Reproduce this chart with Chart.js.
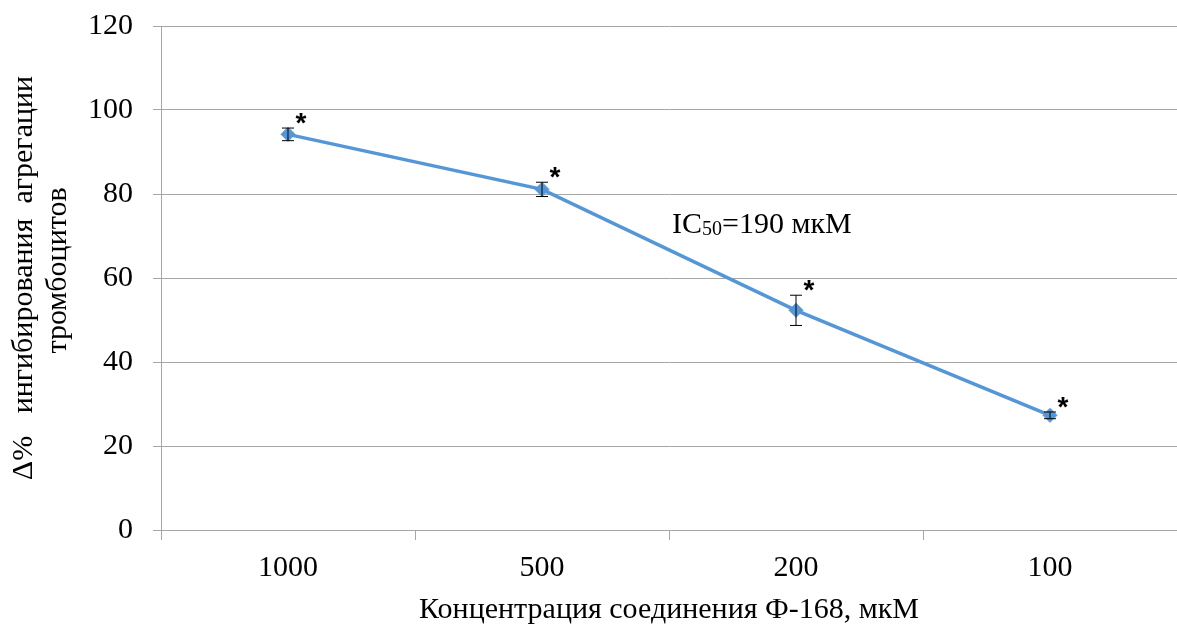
<!DOCTYPE html>
<html>
<head>
<meta charset="utf-8">
<script src="https://cdn.jsdelivr.net/npm/chart.js@4.4.1/dist/chart.umd.min.js"></script>
<style>
  html, body { margin: 0; padding: 0; background: #ffffff; }
  #wrap { width: 1177px; height: 628px; }
</style>
</head>
<body>
<div id="wrap"><canvas id="c" width="1177" height="628"></canvas></div>
<script>
// Concentrations of compound F-168 (µM) and inhibition of platelet aggregation
const categories = ['1000', '500', '200', '100'];
const inhibition = [94.2, 81.1, 52.3, 27.3];
const errors = [1.5, 1.7, 3.6, 0.8];
const significant = [true, true, true, true];
const yTicks = [0, 20, 40, 60, 80, 100, 120];

const FONT = "'Liberation Serif', 'Times New Roman', serif";
const GRID = '#a6a6a6';

// Error bars and significance marks drawn on top of the line
const errorBarPlugin = {
  id: 'errorBars',
  afterDatasetsDraw(chart) {
    const ctx = chart.ctx;
    const meta = chart.getDatasetMeta(0);
    const y = chart.scales.y;
    ctx.save();
    meta.data.forEach((pt, i) => {
      const yTop = y.getPixelForValue(inhibition[i] + errors[i]);
      const yBot = y.getPixelForValue(inhibition[i] - errors[i]);
      const x = pt.x;
      ctx.strokeStyle = '#000000';
      ctx.lineWidth = 1;
      ctx.beginPath();
      ctx.moveTo(x, yTop); ctx.lineTo(x, yBot);
      ctx.moveTo(x - 6, yTop); ctx.lineTo(x + 6, yTop);
      ctx.moveTo(x - 6, yBot); ctx.lineTo(x + 6, yBot);
      ctx.stroke();
      if (significant[i]) {
        ctx.fillStyle = '#000000';
        ctx.font = "bold 28px 'Liberation Sans', Arial, sans-serif";
        ctx.textAlign = 'center';
        ctx.textBaseline = 'middle';
        ctx.fillText('*', x + 13, yTop - 4);
      }
    });
    ctx.restore();
  }
};

// IC50 annotation placed in data coordinates
const icLabelPlugin = {
  id: 'icLabel',
  afterDraw(chart) {
    const ctx = chart.ctx;
    const xs = chart.scales.x, ys = chart.scales.y;
    const x0 = xs.getPixelForValue(1) + 130;
    const yb = ys.getPixelForValue(70.7);
    ctx.save();
    ctx.fillStyle = '#000000';
    ctx.textAlign = 'left';
    ctx.textBaseline = 'alphabetic';
    ctx.font = '30px ' + FONT;
    ctx.fillText('IC', x0, yb);
    let x = x0 + ctx.measureText('IC').width;
    ctx.font = '20px ' + FONT;
    ctx.fillText('50', x, yb + 2);
    x += ctx.measureText('50').width;
    ctx.font = '30px ' + FONT;
    ctx.fillText('=190 мкМ', x, yb);
    ctx.restore();
  }
};

new Chart(document.getElementById('c'), {
  type: 'line',
  data: {
    labels: categories,
    datasets: [{
      data: inhibition,
      borderColor: '#5596d7',
      backgroundColor: '#5596d7',
      borderWidth: 3.5,
      pointStyle: 'rectRot',
      pointRadius: 7,
      pointBorderWidth: 1,
      tension: 0
    }]
  },
  options: {
    responsive: false,
    animation: false,
    devicePixelRatio: 1,
    layout: { autoPadding: false, padding: { top: 26, right: 0, left: 0, bottom: 0 } },
    plugins: { legend: { display: false }, tooltip: { enabled: false } },
    scales: {
      x: {
        offset: true,
        afterFit(s) { s.height = 98; s.paddingLeft = 0; s.paddingRight = 0; },
        grid: { offset: true, drawOnChartArea: false, drawTicks: true, tickLength: 10, color: GRID },
        border: { display: true, color: GRID, width: 1 },
        ticks: { color: '#000000', font: { family: FONT, size: 30 }, padding: 10, maxRotation: 0 },
        title: {
          display: true,
          text: 'Концентрация соединения Ф-168, мкМ',
          color: '#000000',
          font: { family: FONT, size: 30 },
          padding: { top: 0, bottom: 0 }
        }
      },
      y: {
        min: 0, max: 120,
        afterFit(s) { s.width = 161; s.paddingTop = 0; s.paddingBottom = 0; },
        afterBuildTicks(s) { s.ticks = yTicks.map(v => ({ value: v })); },
        grid: { color: GRID, drawTicks: true, tickLength: 8 },
        border: { display: true, color: GRID, width: 1 },
        ticks: { color: '#000000', font: { family: FONT, size: 30 }, padding: 20 },
        title: {
          display: true,
          text: ['Δ%   ингибирования  агрегации', '  тромбоцитов'],
          color: '#000000',
          font: { family: FONT, size: 30, lineHeight: 1.13 },
          padding: { top: 7, bottom: 0 }
        }
      }
    }
  },
  plugins: [errorBarPlugin, icLabelPlugin]
});
</script>
</body>
</html>
